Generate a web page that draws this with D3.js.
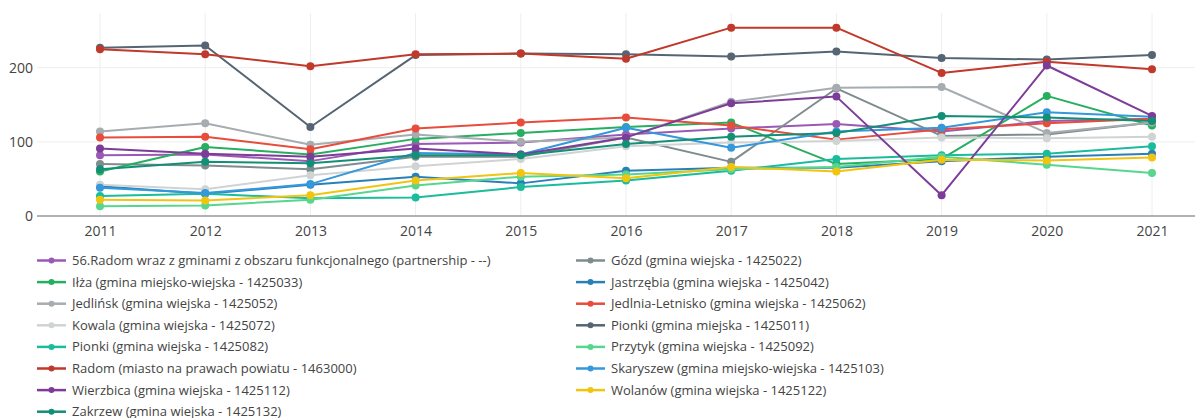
<!DOCTYPE html>
<html>
<head>
<meta charset="utf-8">
<script src="https://cdn.jsdelivr.net/npm/d3@7"></script>
<style>
  html, body { margin: 0; padding: 0; background: #fff; }
  svg { display: block; font-family: "Open Sans", "Noto Sans", sans-serif; }
</style>
</head>
<body>
<svg id="chart" width="1195" height="418"></svg>
<script>
// Years on the horizontal axis
const years = [2011, 2012, 2013, 2014, 2015, 2016, 2017, 2018, 2019, 2020, 2021];
const yTicks = [0, 100, 200];

// Series names (legend order)
const names = [
  "56.Radom wraz z gminami z obszaru funkcjonalnego (partnership - --)",
  "Gózd (gmina wiejska - 1425022)",
  "Iłża (gmina miejsko-wiejska - 1425033)",
  "Jastrzębia (gmina wiejska - 1425042)",
  "Jedlińsk (gmina wiejska - 1425052)",
  "Jedlnia-Letnisko (gmina wiejska - 1425062)",
  "Kowala (gmina wiejska - 1425072)",
  "Pionki (gmina miejska - 1425011)",
  "Pionki (gmina wiejska - 1425082)",
  "Przytyk (gmina wiejska - 1425092)",
  "Radom (miasto na prawach powiatu - 1463000)",
  "Skaryszew (gmina miejsko-wiejska - 1425103)",
  "Wierzbica (gmina wiejska - 1425112)",
  "Wolanów (gmina wiejska - 1425122)",
  "Zakrzew (gmina wiejska - 1425132)"
];

const colors = [
  "#9b59b6", "#7f8c8d", "#27ae60", "#2980b9", "#a6acaf",
  "#e74c3c", "#d0d3d4", "#566573", "#1abc9c", "#58d68d",
  "#c0392b", "#3498db", "#7d3c98", "#f1c40f", "#148f77"
];

// Values per series, 2011–2021
const radomArea     = [82, 83, 74, 97, 99, 110, 118, 124, 114, 128, 131];
const gozd          = [70, 68, 63, 80, 80, 106, 73, 172, 108, 110, 126];
const ilza          = [60, 93, 83, 104, 112, 120, 126, 70, 77, 162, 122];
const jastrzebia    = [40, 30, 42, 53, 44, 61, 65, 65, 74, 80, 84];
const jedlinsk      = [114, 125, 96, 110, 100, 106, 154, 173, 174, 112, 126];
const jedlnia       = [106, 107, 90, 118, 126, 133, 122, 103, 117, 125, 131];
const kowala        = [42, 36, 55, 67, 77, 94, 99, 101, 106, 105, 107];
const pionkiMiasto  = [227, 230, 120, 217, 219, 218, 215, 222, 213, 211, 217];
const pionkiGmina   = [27, 30, 24, 25, 39, 48, 61, 77, 82, 84, 94];
const przytyk       = [13, 14, 22, 41, 53, 56, 63, 66, 80, 69, 58];
const radom         = [225, 218, 202, 218, 219, 212, 254, 254, 193, 208, 198];
const skaryszew     = [38, 31, 43, 85, 83, 119, 92, 114, 119, 140, 134];
const wierzbica     = [91, 84, 80, 91, 83, 106, 152, 161, 28, 203, 135];
const wolanow       = [22, 21, 28, 48, 58, 51, 66, 60, 76, 75, 79];
const zakrzew       = [63, 73, 71, 82, 82, 97, 107, 112, 135, 133, 128];

const seriesValues = [
  radomArea, gozd, ilza, jastrzebia, jedlinsk, jedlnia, kowala,
  pionkiMiasto, pionkiGmina, przytyk, radom, skaryszew, wierzbica, wolanow, zakrzew
];

const series = names.map((name, i) => ({
  name, color: colors[i],
  points: years.map((yr, j) => ({ year: yr, value: seriesValues[i][j] }))
}));

const svg = d3.select("#chart");
const plotLeft = 37, plotRight = 1195, plotTop = 13, plotBottom = 216;

const x = d3.scaleLinear().domain([2011, 2021]).range([100, 1152]);
const y = d3.scaleLinear().domain([0, 200]).range([plotBottom, 67.7]);

// Grid lines
const grid = svg.append("g");
grid.selectAll("line.vx").data(years).join("line")
  .attr("x1", d => x(d)).attr("x2", d => x(d))
  .attr("y1", plotTop).attr("y2", plotBottom)
  .attr("stroke", "#eeeeee").attr("stroke-width", 1);
grid.selectAll("line.hy").data(yTicks.filter(t => t > 0)).join("line")
  .attr("x1", plotLeft).attr("x2", plotRight)
  .attr("y1", d => y(d)).attr("y2", d => y(d))
  .attr("stroke", "#eeeeee").attr("stroke-width", 1);

// X axis
const xAxis = d3.axisBottom(x).tickValues(years).tickFormat(d3.format("d")).tickSize(0).tickPadding(10);
const gx = svg.append("g").attr("transform", `translate(0,${plotBottom})`).call(xAxis);
gx.select(".domain").remove();
gx.selectAll("text").attr("fill", "#444").style("font-size", "14px").style("font-family", "\"Open Sans\", sans-serif");
svg.append("line")
  .attr("x1", plotLeft).attr("x2", plotRight)
  .attr("y1", plotBottom).attr("y2", plotBottom)
  .attr("stroke", "#999").attr("stroke-width", 1.5);

// Y axis labels
const yAxis = d3.axisLeft(y).tickValues(yTicks).tickSize(0).tickPadding(4);
const gy = svg.append("g").attr("transform", `translate(${plotLeft},0)`).call(yAxis);
gy.select(".domain").remove();
gy.selectAll("text").attr("fill", "#444").style("font-size", "14px").style("font-family", "\"Open Sans\", sans-serif");

// Lines and markers
const line = d3.line().x(d => x(d.year)).y(d => y(d.value));
const traces = svg.append("g").selectAll("g").data(series).join("g");
traces.append("path")
  .attr("d", d => line(d.points))
  .attr("fill", "none")
  .attr("stroke", d => d.color)
  .attr("stroke-width", 2)
  .attr("stroke-linejoin", "round");
traces.each(function (s) {
  d3.select(this).selectAll("circle").data(s.points).join("circle")
    .attr("cx", d => x(d.year)).attr("cy", d => y(d.value))
    .attr("r", 4).attr("fill", s.color);
});

// Legend: two columns, filled row by row
const legend = svg.append("g");
const colX = [37, 576], rowY0 = 260.5, rowStep = 21.6;
const items = legend.selectAll("g").data(series).join("g")
  .attr("transform", (d, i) => `translate(${colX[i % 2]},${rowY0 + Math.floor(i / 2) * rowStep})`);
items.append("line")
  .attr("x1", 0).attr("x2", 29).attr("y1", 0).attr("y2", 0)
  .attr("stroke", d => d.color).attr("stroke-width", 2.5);
items.append("circle").attr("cx", 14.5).attr("cy", 0).attr("r", 3).attr("fill", d => d.color);
items.append("text")
  .attr("x", 35).attr("y", 0).attr("dy", "0.35em")
  .attr("fill", "#444")
  .style("font-size", "13px")
  .text(d => d.name);
</script>
</body>
</html>
